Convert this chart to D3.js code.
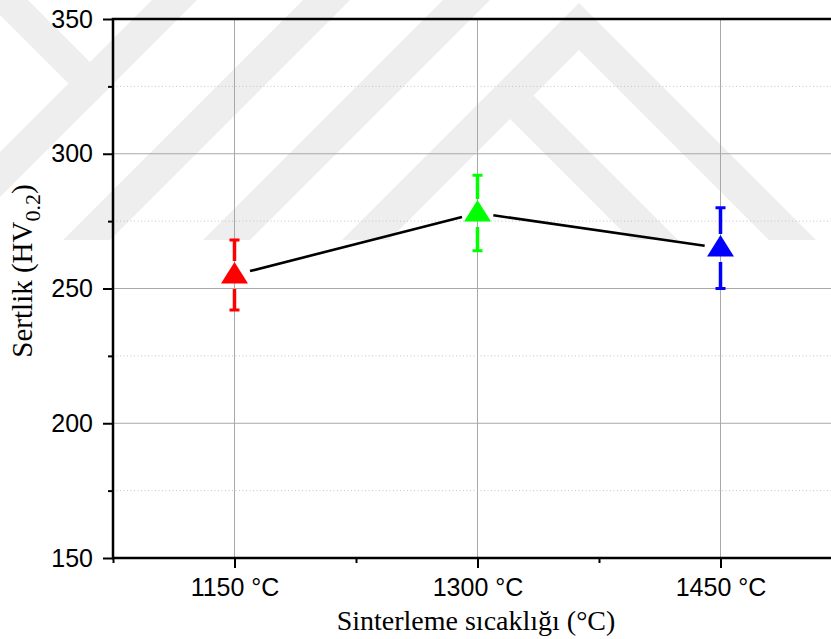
<!DOCTYPE html>
<html>
<head>
<meta charset="utf-8">
<script src="https://cdn.jsdelivr.net/npm/d3@7"></script>
<style>
  body { margin: 0; background: #fff; }
  svg { display: block; }
</style>
</head>
<body>
<svg id="chart" width="831" height="639"></svg>
<script>
// data
var categories = ["1150 °C", "1300 °C", "1450 °C"];
var hardness = [255, 278, 265];
var hardnessErr = [13, 14, 15];
var pointColors = ["#ff0000", "#00ff00", "#0000ff"];
var yTicks = [150, 200, 250, 300, 350];
var yMinorTicks = [175, 225, 275, 325];

// background watermark (decoration only, not data)
var watermark = [
  [[152, 0], [197, 0], [-10, 207], [-10, 162]],
  [[-15, 0], [28, 0], [112.5, 84.5], [91, 106]],
  [[303, 0], [350, 0], [110, 240], [63, 240]],
  [[443, 0], [490, 0], [250, 240], [203, 240]],
  [[579, 3], [816, 240], [769, 240], [579, 50], [389, 240], [342, 240]],
  [[510, 119], [533.5, 95.5], [678, 240], [631, 240]]
];

var margin = { left: 113, right: 842, top: 19, bottom: 558 };

var svg = d3.select("#chart");

// x is category index, axis runs half a step past first/last
var x = d3.scaleLinear().domain([0.5, 3.5]).range([margin.left, margin.right]);
var y = d3.scaleLinear().domain([150, 350]).range([margin.bottom, margin.top]);

svg.append("g")
  .selectAll("path")
  .data(watermark)
  .enter()
  .append("path")
  .attr("d", function (d) { return "M" + d.join("L") + "Z"; })
  .style("fill", "#eeeeee");

// minor grid (dotted)
svg.append("g")
  .selectAll("line")
  .data(yMinorTicks)
  .enter()
  .append("line")
  .attr("x1", margin.left)
  .attr("x2", margin.right)
  .attr("y1", function (d) { return y(d); })
  .attr("y2", function (d) { return y(d); })
  .style("stroke", "#c4c4c4")
  .style("stroke-width", 1)
  .style("stroke-dasharray", "1,2.5");

// major grid
svg.append("g")
  .selectAll("line")
  .data(yTicks.slice(1, -1))
  .enter()
  .append("line")
  .attr("x1", margin.left)
  .attr("x2", margin.right)
  .attr("y1", function (d) { return y(d); })
  .attr("y2", function (d) { return y(d); })
  .style("stroke", "#a8a8a8")
  .style("stroke-width", 1);

svg.append("g")
  .selectAll("line")
  .data(categories)
  .enter()
  .append("line")
  .attr("x1", function (d, i) { return x(i + 1); })
  .attr("x2", function (d, i) { return x(i + 1); })
  .attr("y1", margin.top)
  .attr("y2", margin.bottom)
  .style("stroke", "#a8a8a8")
  .style("stroke-width", 1);

// axes
var yAxis = d3.axisLeft(y).tickValues(yTicks).tickSize(10).tickPadding(10);
var yAxisMinor = d3.axisLeft(y).tickValues(yMinorTicks).tickSize(5).tickFormat("");
var xAxis = d3.axisBottom(x)
  .tickValues([1, 2, 3])
  .tickSize(10)
  .tickPadding(10)
  .tickFormat(function (d) { return categories[d - 1]; });
var xAxisMinor = d3.axisBottom(x).tickValues([0.5, 1.5, 2.5, 3.5]).tickSize(5).tickFormat("");

function styleAxis(g) {
  g.select(".domain").remove();
  g.selectAll(".tick line").style("stroke", "#000").style("stroke-width", 2);
  g.selectAll(".tick text")
    .style("font-family", "Arial, 'Liberation Sans', sans-serif")
    .style("font-size", "25px")
    .style("fill", "#000");
}

svg.append("g").attr("transform", "translate(" + margin.left + ",0)").call(yAxis).call(styleAxis);
svg.append("g").attr("transform", "translate(" + margin.left + ",0)").call(yAxisMinor).call(styleAxis);
svg.append("g").attr("transform", "translate(0," + margin.bottom + ")").call(xAxis).call(styleAxis);
svg.append("g").attr("transform", "translate(0," + margin.bottom + ")").call(xAxisMinor).call(styleAxis);

// frame lines: left, bottom, top
svg.append("path")
  .attr("d", "M" + margin.right + "," + margin.top + "H" + margin.left + "V" + margin.bottom + "H" + margin.right)
  .style("fill", "none")
  .style("stroke", "#000")
  .style("stroke-width", 2.5);

// connecting line with gaps around markers
var gap = 16;
var segs = [];
for (var i = 0; i < hardness.length - 1; i++) {
  var x0 = x(i + 1), y0 = y(hardness[i]);
  var x1 = x(i + 2), y1 = y(hardness[i + 1]);
  var len = Math.sqrt((x1 - x0) * (x1 - x0) + (y1 - y0) * (y1 - y0));
  var ux = (x1 - x0) / len, uy = (y1 - y0) / len;
  segs.push([[x0 + ux * gap, y0 + uy * gap], [x1 - ux * gap, y1 - uy * gap]]);
}
svg.append("g")
  .selectAll("path")
  .data(segs)
  .enter()
  .append("path")
  .attr("d", d3.line())
  .style("fill", "none")
  .style("stroke", "#000")
  .style("stroke-width", 2.6);

// error bars
var barGap = 14;
var errG = svg.append("g")
  .selectAll("g")
  .data(hardness)
  .enter()
  .append("g")
  .style("stroke", function (d, i) { return pointColors[i]; })
  .style("fill", "none");

errG.append("path")
  .attr("d", function (d, i) {
    var cx = x(i + 1), cy = y(d);
    var top = y(d + hardnessErr[i]), bot = y(d - hardnessErr[i]);
    return "M" + cx + "," + top + "V" + (cy - barGap) +
      "M" + cx + "," + (cy + barGap) + "V" + bot;
  })
  .style("stroke-width", 3.5);

errG.append("path")
  .attr("d", function (d, i) {
    var cx = x(i + 1);
    var top = y(d + hardnessErr[i]), bot = y(d - hardnessErr[i]);
    return "M" + (cx - 5) + "," + top + "H" + (cx + 5) +
      "M" + (cx - 5) + "," + bot + "H" + (cx + 5);
  })
  .style("stroke-width", 3);

// triangle markers
svg.append("g")
  .selectAll("path")
  .data(hardness)
  .enter()
  .append("path")
  .attr("transform", function (d, i) { return "translate(" + x(i + 1) + "," + y(d) + ")"; })
  .attr("d", "M0,-13L13.5,8.5L-13.5,8.5Z")
  .style("fill", function (d, i) { return pointColors[i]; });

// axis titles
svg.append("text")
  .attr("x", 476)
  .attr("y", 630)
  .attr("text-anchor", "middle")
  .style("font-family", "'Times New Roman', 'Liberation Serif', serif")
  .style("font-size", "28px")
  .text("Sinterleme sıcaklığı (°C)");

var yTitle = svg.append("text")
  .attr("transform", "translate(32,271) rotate(-90)")
  .attr("text-anchor", "middle")
  .style("font-family", "'Times New Roman', 'Liberation Serif', serif")
  .style("font-size", "29px");
yTitle.append("tspan").text("Sertlik (HV");
yTitle.append("tspan").attr("dy", 8).style("font-size", "22px").text("0.2");
yTitle.append("tspan").attr("dy", -8).text(")");
</script>
</body>
</html>
